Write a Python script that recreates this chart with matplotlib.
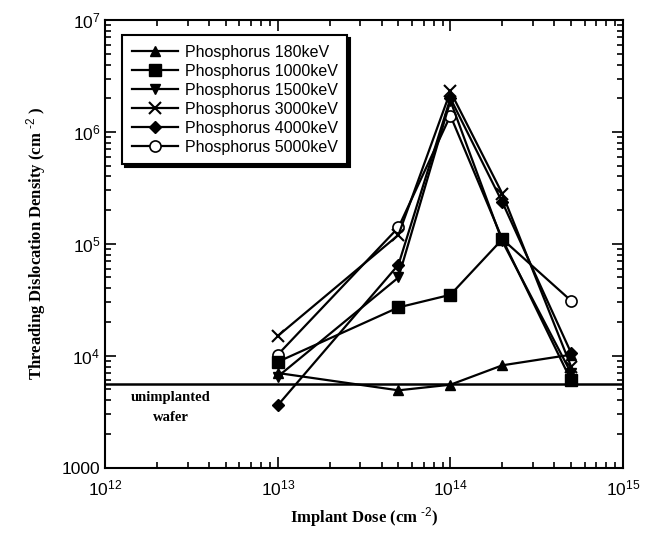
import numpy as np
import matplotlib
matplotlib.use("Agg")
import matplotlib.pyplot as plt
from matplotlib.ticker import LogLocator, FuncFormatter, NullFormatter

plt.rcParams['font.family'] = ['Liberation Sans', 'DejaVu Sans']
plt.rcParams['mathtext.fontset'] = 'custom'
plt.rcParams['mathtext.rm'] = 'Liberation Sans'
plt.rcParams['mathtext.it'] = 'Liberation Sans'
plt.rcParams['mathtext.bf'] = 'Liberation Serif:bold'

# implant dose (cm^-2)
dose = [1e13, 5e13, 1e14, 2e14, 5e14]

# threading dislocation density (cm^-2) for each implant energy
p180 = [7.0e3, 4.9e3, 5.5e3, 8.2e3, 1.02e4]
p1000 = [8.8e3, 2.7e4, 3.5e4, 1.1e5, 6.0e3]
p1500 = [6.5e3, 5.0e4, 1.9e6, 1.05e5, 7.0e3]
p3000 = [1.5e4, 1.2e5, 2.3e6, 2.8e5, 8.0e3]
p4000 = [3.6e3, 6.5e4, 2.0e6, 2.35e5, 1.06e4]
p5000 = [1.02e4, 1.4e5, 1.4e6, 1.1e5, 3.1e4]

unimplanted = 5.6e3

series = [
    ("Phosphorus 180keV", p180, dict(marker='^', ms=7, mfc='k', zorder=3)),
    ("Phosphorus 1000keV", p1000, dict(marker='s', ms=9, mfc='k', zorder=5)),
    ("Phosphorus 1500keV", p1500, dict(marker='v', ms=7, mfc='k', zorder=3)),
    ("Phosphorus 3000keV", p3000, dict(marker='x', ms=9, mew=1.5, zorder=3)),
    ("Phosphorus 4000keV", p4000, dict(marker='D', ms=6, mfc='k', zorder=3)),
    ("Phosphorus 5000keV", p5000, dict(marker='o', ms=8, mfc='white', mew=1.2, zorder=2)),
]

fig = plt.figure(figsize=(6.49, 5.43), dpi=100)
ax = fig.add_axes([0.162, 0.139, 0.798, 0.824])

for label, vals, style in series:
    ax.plot(dose, vals, color='k', lw=1.6, mec='k', label=label, **style)

ax.axhline(unimplanted, color='k', lw=1.8)
ax.text(2.4e12, 4.2e3, "unimplanted", ha='center', va='center',
        family='Liberation Serif', weight='bold', fontsize=10.5)
ax.text(2.4e12, 2.8e3, "wafer", ha='center', va='center',
        family='Liberation Serif', weight='bold', fontsize=10.5)

ax.set_xscale('log')
ax.set_yscale('log')
ax.set_xlim(1e12, 1e15)
ax.set_ylim(1e3, 1e7)

ax.xaxis.set_major_locator(LogLocator(base=10, numticks=10))
ax.yaxis.set_major_locator(LogLocator(base=10, numticks=10))
ax.xaxis.set_minor_locator(LogLocator(base=10, subs=np.arange(2, 10), numticks=20))
ax.yaxis.set_minor_locator(LogLocator(base=10, subs=np.arange(2, 10), numticks=20))
ax.xaxis.set_minor_formatter(NullFormatter())
ax.yaxis.set_minor_formatter(NullFormatter())


def fmt(v, pos):
    n = int(round(np.log10(v)))
    if n == 3:
        return "1000"
    return r"$10^{%d}$" % n


ax.xaxis.set_major_formatter(FuncFormatter(fmt))
ax.yaxis.set_major_formatter(FuncFormatter(fmt))

ax.tick_params(which='both', direction='in', top=True, right=True, width=1.2,
               labelsize=12.5)
ax.tick_params(which='major', length=8)
ax.tick_params(which='minor', length=4)
ax.tick_params(axis='x', pad=8)
for s in ax.spines.values():
    s.set_linewidth(1.5)

ax.set_xlabel(r"Implant Dose (cm $^{\mathbf{\text{-2}}}$)", family='Liberation Serif',
              weight='bold', fontsize=12, labelpad=5)
ax.set_ylabel(r"Threading Dislocation Density (cm $^{\mathbf{\text{-2}}}$ )",
              family='Liberation Serif', weight='bold', fontsize=12, labelpad=10)

leg = ax.legend(loc='upper left', bbox_to_anchor=(0.033, 0.966), borderaxespad=0,
                fontsize=11.5, handlelength=2.9, handletextpad=0.4,
                labelspacing=0.25, borderpad=0.6, fancybox=False, framealpha=1,
                shadow={'color': 'black', 'alpha': 1})
leg.get_frame().set_edgecolor('k')
leg.get_frame().set_linewidth(1.5)

fig.savefig("out.png", dpi=100)
